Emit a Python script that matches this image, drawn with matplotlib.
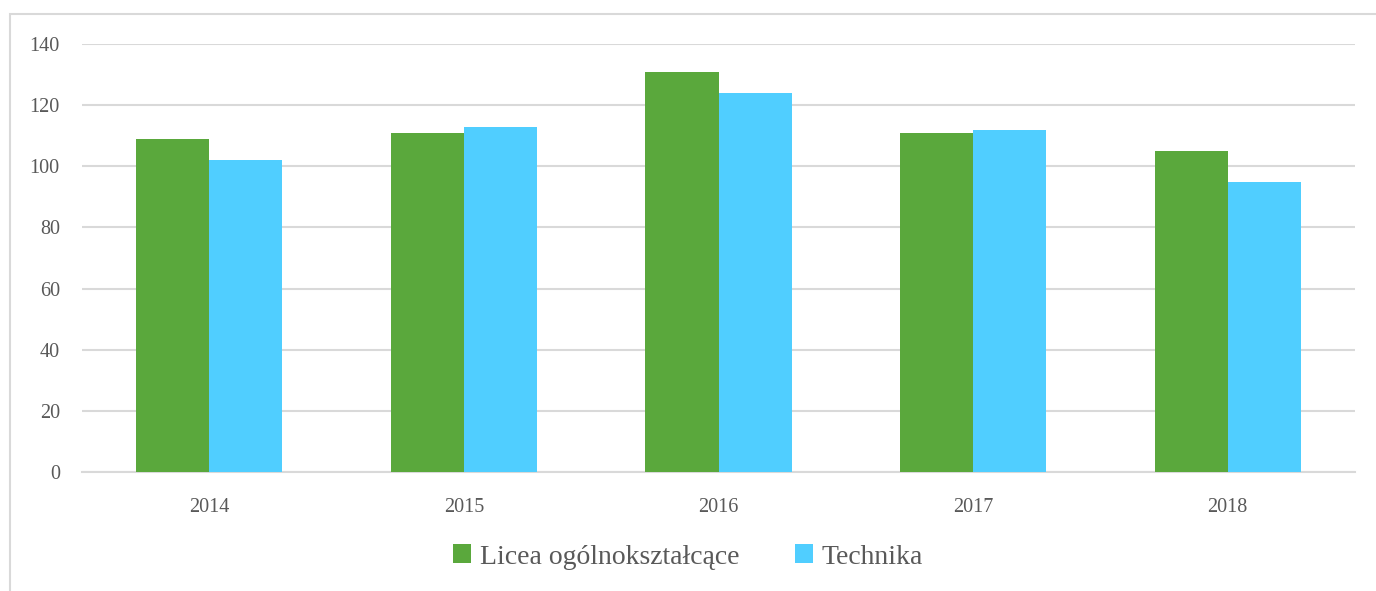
import numpy as np
import matplotlib.pyplot as plt
from matplotlib.patches import Rectangle

years = ['2014', '2015', '2016', '2017', '2018']
licea = [109, 111, 131, 111, 105]
technika = [102, 113, 124, 112, 95]
series_names = ['Licea ogólnokształcące', 'Technika']

green = '#5AA83C'
blue = '#50CEFF'
text_col = '#595959'
grid_col = '#D9D9D9'

plt.rcParams['font.family'] = ['Liberation Serif', 'DejaVu Serif']

fig = plt.figure(figsize=(13.76, 5.91), dpi=100)
ax = fig.add_axes([82 / 1376, 1 - 472 / 591, (1355 - 82) / 1376, (472 - 44) / 591])

# outer chart frame
fig.patches.append(Rectangle((10 / 1376, -0.01), 1.02, 1 - 14 / 591 + 0.01,
                             transform=fig.transFigure, fill=False,
                             edgecolor=grid_col, linewidth=1.5))

x = np.arange(len(years))
width = 0.287
ax.bar(x - width / 2, licea, width, color=green, label=series_names[0], zorder=3)
ax.bar(x + width / 2, technika, width, color=blue, label=series_names[1], zorder=3)

ax.set_xlim(-0.5, len(years) - 0.5)
ax.set_ylim(0, 140)
ax.set_yticks(range(0, 141, 20))
ax.set_xticks(x)
ax.set_xticklabels(years)
ax.yaxis.grid(True, color=grid_col, linewidth=1.5, zorder=0)
ax.set_axisbelow(True)

for side in ['top', 'right', 'left']:
    ax.spines[side].set_visible(False)
ax.spines['bottom'].set_color(grid_col)
ax.spines['bottom'].set_linewidth(1.5)
ax.tick_params(axis='both', length=0, labelsize=14.5, colors=text_col)
ax.tick_params(axis='y', pad=16)
ax.tick_params(axis='x', pad=19)

leg = fig.legend(loc='center', bbox_to_anchor=(0.5, 1 - 557 / 591), ncol=2,
                 frameon=False, fontsize=20, handlelength=0.65, handleheight=0.65,
                 handletextpad=0.3, columnspacing=2.0)
for t in leg.get_texts():
    t.set_color(text_col)

fig.savefig('out.png', dpi=100)
